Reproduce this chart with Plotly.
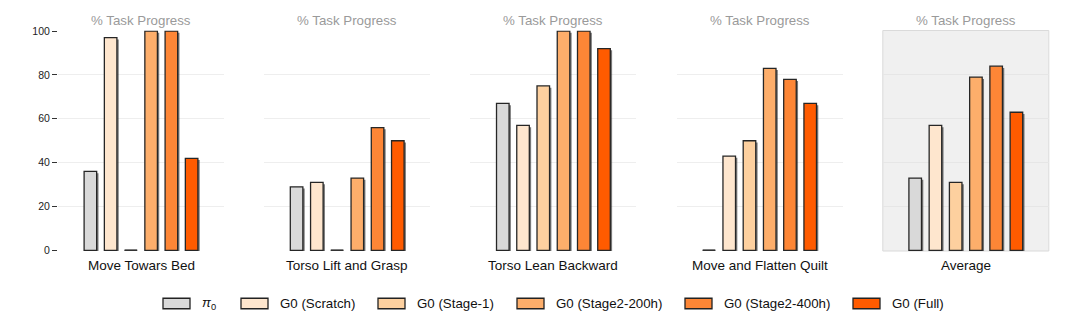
import plotly.graph_objects as go

# ---- data -------------------------------------------------------------
tasks = ["Move Towars Bed", "Torso Lift and Grasp", "Torso Lean Backward",
         "Move and Flatten Quilt", "Average"]
series_names = ["<i>π</i><sub>0</sub>", "G0 (Scratch)", "G0 (Stage-1)",
                "G0 (Stage2-200h)", "G0 (Stage2-400h)", "G0 (Full)"]
series_colors = ["#d9d9d9", "#fee6ce", "#fdd09f", "#fdae6b", "#fd8636", "#ff5b00"]

pi0 = [36, 29, 67, 0, 33]
g0_scratch = [97, 31, 57, 43, 57]
g0_stage1 = [0, 0, 75, 50, 31]
g0_stage2_200h = [100, 33, 100, 83, 79]
g0_stage2_400h = [100, 56, 100, 78, 84]
g0_full = [42, 50, 92, 67, 63]

y_ticks = [0, 20, 40, 60, 80, 100]
panel_title = "% Task Progress"

series_values = [pi0, g0_scratch, g0_stage1, g0_stage2_200h, g0_stage2_400h, g0_full]

# ---- layout geometry (pixels) ------------------------------------------
W, H = 1080, 328
FONT = "Liberation Sans, Arial, Helvetica, sans-serif"
panel_left0, panel_step, panel_w = 58.0, 206.2, 166.0
plot_top, plot_bottom = 30.5, 251.0
bar_w = 0.62
shadow_dx, shadow_dy = 0.09, 0.8


def px_x(p):
    return p / W


def px_y(p):
    return 1 - p / H


fig = go.Figure()
annotations = []
shapes = []
layout_axes = {}

x_pos = list(range(len(series_names)))

for i, task in enumerate(tasks):
    sfx = "" if i == 0 else str(i + 1)
    xa, ya = "x" + sfx, "y" + sfx
    left = panel_left0 + i * panel_step
    vals = [s[i] for s in series_values]

    layout_axes["xaxis" + sfx] = dict(
        domain=[px_x(left), px_x(left + panel_w)], range=[-1.6, 6.6],
        showgrid=False, zeroline=False, showticklabels=False, ticks="",
        showline=False, anchor=ya, fixedrange=True, automargin=False)
    layout_axes["yaxis" + sfx] = dict(
        domain=[px_y(plot_bottom), px_y(plot_top)], range=[-0.25, 100.25],
        tickvals=y_ticks, showgrid=True,
        gridcolor="#e6e6e6" if i == len(tasks) - 1 else "#eeeeee", gridwidth=1,
        zeroline=False, showline=False, anchor=xa, fixedrange=True,
        automargin=False,
        showticklabels=(i == 0), ticks="outside" if i == 0 else "",
        ticklen=5, tickcolor="#333333", tickwidth=1,
        tickfont=dict(family=FONT, size=10.5, color="#222222"))

    # drop shadow under each bar
    fig.add_trace(go.Bar(
        x=x_pos, y=vals, base=-shadow_dy, width=bar_w, offset=-bar_w / 2 + shadow_dx,
        marker=dict(color="rgba(30,30,30,0.6)", line=dict(width=0)),
        xaxis=xa, yaxis=ya, showlegend=False, hoverinfo="skip"))
    # the bars themselves
    fig.add_trace(go.Bar(
        x=x_pos, y=vals, width=bar_w, offset=-bar_w / 2,
        marker=dict(color=series_colors, line=dict(color="#262626", width=1.3)),
        xaxis=xa, yaxis=ya, showlegend=False,
        customdata=[n for n in series_names],
        hovertemplate="%{customdata}: %{y}<extra></extra>"))

    # zero-valued results drawn as a flat outline on the baseline
    zx, zy = [], []
    for k, v in enumerate(vals):
        if v == 0:
            zx += [k - bar_w / 2, k + bar_w / 2, None]
            zy += [v, v, None]
    if zx:
        fig.add_trace(go.Scatter(
            x=zx, y=zy, mode="lines", line=dict(color="#333333", width=2),
            xaxis=xa, yaxis=ya, showlegend=False, hoverinfo="skip",
            cliponaxis=False))

    cx = px_x(left + panel_w / 2)
    annotations.append(dict(
        text=panel_title, x=cx, y=px_y(20), xref="paper", yref="paper",
        xanchor="center", yanchor="middle", showarrow=False,
        font=dict(family=FONT, size=13.3, color="#9a9a9a")))
    annotations.append(dict(
        text=task, x=cx, y=px_y(265.5), xref="paper", yref="paper",
        xanchor="center", yanchor="middle", showarrow=False,
        font=dict(family=FONT, size=13.5, color="#111111")))

# shaded background of the summary panel
shapes.append(dict(
    type="rect", xref="x5 domain", yref="y5 domain", x0=0, x1=1, y0=0, y1=1,
    fillcolor="#f0f0f0", line=dict(color="#dadada", width=1), layer="below"))

# ---- legend row ------------------------------------------------------
legend_left = [163, 241, 378, 517, 685, 853]
sw_w, sw_h, legend_y = 27, 10.5, 303.5
for name, color, lx in zip(series_names, series_colors, legend_left):
    shapes.append(dict(
        type="rect", xref="paper", yref="paper",
        x0=px_x(lx), x1=px_x(lx + sw_w),
        y0=px_y(legend_y + sw_h / 2), y1=px_y(legend_y - sw_h / 2),
        fillcolor=color, line=dict(color="#222222", width=1.3)))
    annotations.append(dict(
        text=name, x=px_x(lx + sw_w + 10), y=px_y(legend_y), xref="paper",
        yref="paper", xanchor="left", yanchor="middle", showarrow=False,
        font=dict(family=FONT, size=13.3, color="#111111")))

fig.update_layout(
    width=W, height=H, margin=dict(l=0, r=0, t=0, b=0, pad=0, autoexpand=False),
    paper_bgcolor="white", plot_bgcolor="rgba(0,0,0,0)",
    barmode="overlay", showlegend=False,
    annotations=annotations, shapes=shapes,
    font=dict(family=FONT),
    **layout_axes)

fig.write_html("out.html", config={"displayModeBar": False})
